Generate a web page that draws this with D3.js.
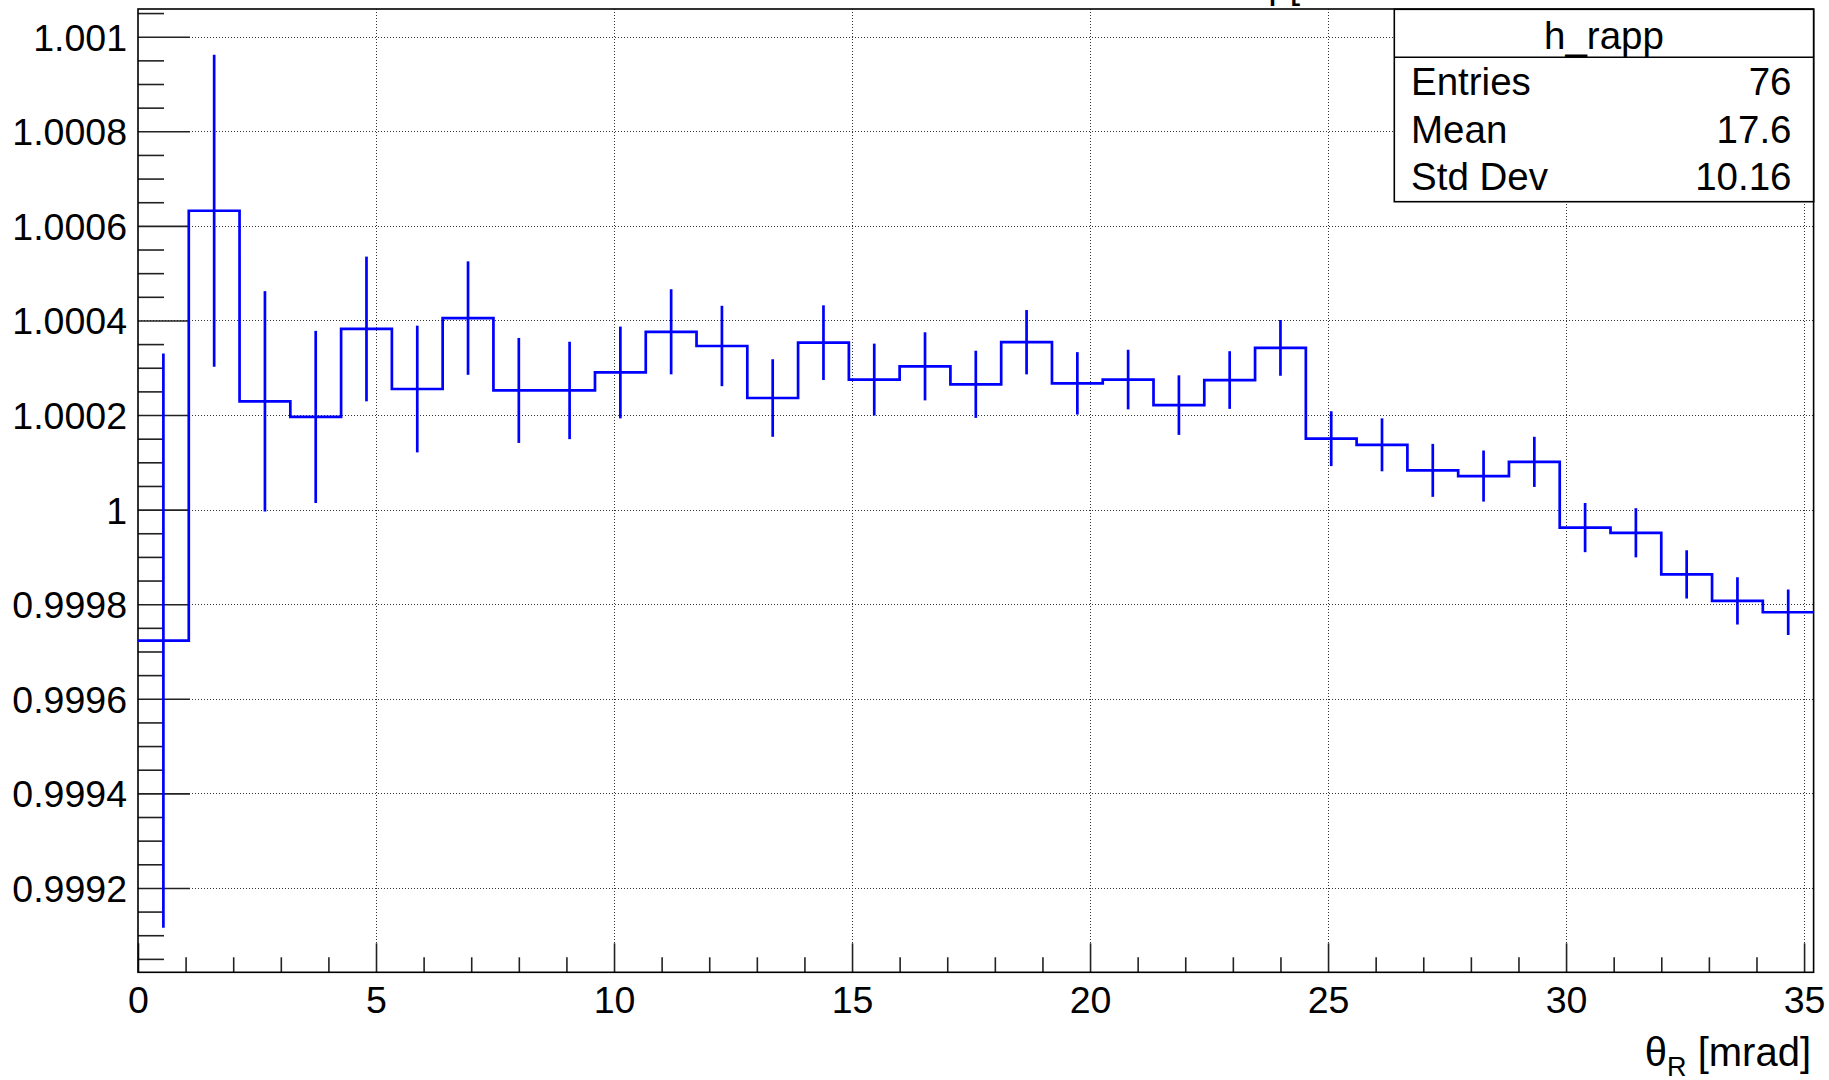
<!DOCTYPE html>
<html>
<head>
<meta charset="utf-8">
<script src="https://cdn.jsdelivr.net/npm/d3@7/dist/d3.min.js"></script>
<style>
  html, body { margin: 0; padding: 0; background: #fff; }
  svg { display: block; }
  text { font-family: "Liberation Sans", Arial, Helvetica, sans-serif; fill: #000; }
</style>
</head>
<body>
<svg id="chart" width="1829" height="1080"></svg>
<script>
// ---------------- data ----------------
const xRange = [0, 35.2];
const nBins = 33;
const binValues = [0.999723, 1.000632, 1.000229, 1.000196, 1.000382, 1.000255, 1.000405, 1.000252,
  1.000252, 1.000290, 1.000376, 1.000346, 1.000236, 1.000353, 1.000275, 1.000303, 1.000265,
  1.000354, 1.000267, 1.000275, 1.000221, 1.000274, 1.000342, 1.000150, 1.000137,
  1.000083, 1.000071, 1.000101, 0.999962, 0.999951, 0.999863, 0.999807, 0.999783];
const binErrors = [0.000607, 0.000330, 0.000233, 0.000182, 0.000153, 0.000134, 0.000120, 0.000111,
  0.000103, 0.000097, 0.000090, 0.000085, 0.000082, 0.000079, 0.000076, 0.000072, 0.000071,
  0.000068, 0.000066, 0.000063, 0.000063, 0.000061, 0.000059, 0.000058, 0.000056,
  0.000056, 0.000054, 0.000053, 0.000052, 0.000052, 0.000051, 0.000050, 0.000048];
const yRange = [0.9990216, 1.0010586];
const yMajorTicks = [0.9992, 0.9994, 0.9996, 0.9998, 1.0, 1.0002, 1.0004, 1.0006, 1.0008, 1.001];
const yTickLabels = ["0.9992", "0.9994", "0.9996", "0.9998", "1", "1.0002", "1.0004", "1.0006", "1.0008", "1.001"];
const yMinorTicks = [0.99905, 0.9991, 0.99915, 0.99925, 0.9993, 0.99935, 0.99945, 0.9995, 0.99955,
  0.99965, 0.9997, 0.99975, 0.99985, 0.9999, 0.99995, 1.00005, 1.0001, 1.00015, 1.00025, 1.0003,
  1.00035, 1.00045, 1.0005, 1.00055, 1.00065, 1.0007, 1.00075, 1.00085, 1.0009, 1.00095, 1.00105];
const xMajorTicks = [0, 5, 10, 15, 20, 25, 30, 35];
const xTickLabels = ["0", "5", "10", "15", "20", "25", "30", "35"];
const xMinorTicks = [1, 2, 3, 4, 6, 7, 8, 9, 11, 12, 13, 14, 16, 17, 18, 19, 21, 22, 23, 24,
  26, 27, 28, 29, 31, 32, 33, 34];
const statsTitle = "h_rapp";
const statsNames = ["Entries", "Mean", "Std Dev"];
const statsValues = ["76", "17.6", "10.16"];
const xTitle = ["θ", "R", " [mrad]"];
const histTitle = "p[";

// ---------------- layout ----------------
const L = 138, R = 1813.6, T = 9, B = 972.3;
const svg = d3.select("#chart");

svg.append("rect").attr("x", 0).attr("y", 0).attr("width", 1829).attr("height", 1080).attr("fill", "#fff");

const x = d3.scaleLinear().domain(xRange).range([L, R]);
const y = d3.scaleLinear().domain(yRange).range([B, T]);

// grid
const grid = svg.append("g").attr("stroke", "#333").attr("stroke-width", 1).attr("stroke-dasharray", "1,2");
grid.selectAll("line.gx").data(xMajorTicks.filter(v => v > xRange[0])).enter().append("line")
  .attr("x1", d => Math.round(x(d)) + 0.5).attr("x2", d => Math.round(x(d)) + 0.5)
  .attr("y1", T).attr("y2", B);
grid.selectAll("line.gy").data(yMajorTicks).enter().append("line")
  .attr("x1", L).attr("x2", R)
  .attr("y1", d => Math.round(y(d)) + 0.5).attr("y2", d => Math.round(y(d)) + 0.5);

// axes
const fmtY = d => yTickLabels[yMajorTicks.indexOf(d)];
const fmtX = d => xTickLabels[xMajorTicks.indexOf(d)];

const yAxisMajor = svg.append("g").attr("transform", `translate(${L},0)`)
  .call(d3.axisLeft(y).tickValues(yMajorTicks).tickFormat(fmtY).tickSize(-52).tickPadding(11));
const yAxisMinor = svg.append("g").attr("transform", `translate(${L},0)`)
  .call(d3.axisLeft(y).tickValues(yMinorTicks).tickFormat("").tickSize(-26));
const xAxisMajor = svg.append("g").attr("transform", `translate(0,${B})`)
  .call(d3.axisBottom(x).tickValues(xMajorTicks).tickFormat(fmtX).tickSize(-29).tickPadding(14));
const xAxisMinor = svg.append("g").attr("transform", `translate(0,${B})`)
  .call(d3.axisBottom(x).tickValues(xMinorTicks).tickFormat("").tickSize(-15));

[yAxisMajor, yAxisMinor, xAxisMajor, xAxisMinor].forEach(g => {
  g.select(".domain").remove();
  g.selectAll(".tick line").attr("stroke", "#222").attr("stroke-width", 1.6);
});
yAxisMajor.selectAll(".tick text")
  .attr("font-size", 37.5).attr("font-family", "Liberation Sans, Arial, sans-serif")
  .attr("dy", "0.36em").attr("fill", "#000");
xAxisMajor.selectAll(".tick text")
  .attr("font-size", 37.5).attr("font-family", "Liberation Sans, Arial, sans-serif")
  .attr("y", 40.4).attr("dy", 0).attr("fill", "#000");

// frame
svg.append("rect").attr("x", L).attr("y", T).attr("width", R - L).attr("height", B - T)
  .attr("fill", "none").attr("stroke", "#000").attr("stroke-width", 1.6);

// histogram
const bw = (xRange[1] - xRange[0]) / nBins;
const clip = svg.append("clipPath").attr("id", "plotclip");
clip.append("rect").attr("x", L).attr("y", T).attr("width", R - L).attr("height", B - T);
const hg = svg.append("g").attr("clip-path", "url(#plotclip)");

const stepPts = [];
binValues.forEach((v, i) => {
  const lo = xRange[0] + i * bw, hi = lo + bw;
  stepPts.push([lo, v], [hi, v]);
});
const line = d3.line().x(d => x(d[0])).y(d => y(d[1]));
hg.append("path").attr("d", line(stepPts)).attr("fill", "none")
  .attr("stroke", "#0000ff").attr("stroke-width", 2.7).attr("stroke-linejoin", "miter");

hg.selectAll("line.err").data(binValues).enter().append("line")
  .attr("x1", (v, i) => x(xRange[0] + (i + 0.5) * bw))
  .attr("x2", (v, i) => x(xRange[0] + (i + 0.5) * bw))
  .attr("y1", (v, i) => y(v - binErrors[i]))
  .attr("y2", (v, i) => y(v + binErrors[i]))
  .attr("stroke", "#0000ff").attr("stroke-width", 2.7);

// stats box
const sb = { x0: 1394.3, x1: R, y0: 9.3, y1: 201.7, div: 57.3 };
svg.append("rect").attr("x", sb.x0).attr("y", sb.y0).attr("width", sb.x1 - sb.x0).attr("height", sb.y1 - sb.y0)
  .attr("fill", "#fff").attr("stroke", "#000").attr("stroke-width", 1.6);
svg.append("line").attr("x1", sb.x0).attr("x2", sb.x1).attr("y1", sb.div).attr("y2", sb.div)
  .attr("stroke", "#000").attr("stroke-width", 1.6);
svg.append("text").attr("x", (sb.x0 + sb.x1) / 2).attr("y", 49).attr("text-anchor", "middle")
  .attr("font-size", 38.5).text(statsTitle);
const rowY = [95, 143.3, 190];
statsNames.forEach((n, i) => {
  svg.append("text").attr("x", 1411).attr("y", rowY[i]).attr("font-size", 38.5).text(n);
  svg.append("text").attr("x", 1791.5).attr("y", rowY[i]).attr("text-anchor", "end")
    .attr("font-size", 38.5).text(statsValues[i]);
});

// x title
const xt = svg.append("text").attr("x", 1811).attr("y", 1066).attr("text-anchor", "end").attr("font-size", 40);
xt.append("tspan").text(xTitle[0]);
xt.append("tspan").attr("font-size", 27).attr("dy", 10).text(xTitle[1]);
xt.append("tspan").attr("dy", -10).text(xTitle[2]);

// histogram title (cut off at top)
svg.append("text").attr("x", 1300).attr("y", -2).attr("text-anchor", "end").attr("font-size", 38).text(histTitle);
</script>
</body>
</html>
